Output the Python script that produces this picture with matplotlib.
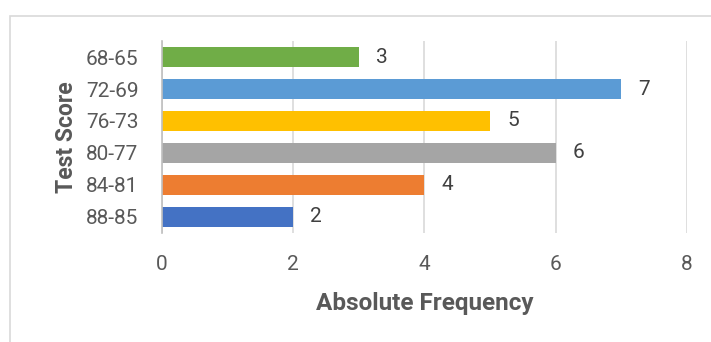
import matplotlib.pyplot as plt
from matplotlib.patches import Rectangle

# Test score ranges, bottom to top
categories = ['88-85', '84-81', '80-77', '76-73', '72-69', '68-65']
frequency = [2, 4, 6, 5, 7, 3]
colors = ['#4472C4', '#ED7D31', '#A5A5A5', '#FFC000', '#5B9BD5', '#70AD47']
x_ticks = [0, 2, 4, 6, 8]

font = ['Roboto', 'DejaVu Sans']

fig = plt.figure(figsize=(7.11, 3.42), dpi=100)
ax = fig.add_axes([0.228, 0.319, 0.738, 0.561])

pos = range(len(categories))
bars = ax.barh(pos, frequency, height=0.625, color=colors, zorder=3)

for b, v in zip(bars, frequency):
    ax.annotate(str(v), (b.get_width(), b.get_y() + b.get_height() / 2),
                xytext=(17, 0), textcoords='offset pixels', va='center', ha='left',
                fontsize=15, color='#404040', family=font)

ax.set_xlim(0, 8)
ax.set_ylim(-0.5, len(categories) - 0.5)
ax.set_xticks(x_ticks)
ax.set_xticklabels([str(t) for t in x_ticks], family=font, fontsize=15, color='#595959')
ax.set_yticks(list(pos))
ax.set_yticklabels(categories, family=font, fontsize=15, color='#595959')
ax.tick_params(length=0)
ax.tick_params(axis='x', pad=16)
ax.tick_params(axis='y', pad=17)

ax.grid(axis='x', color='#D9D9D9', linewidth=1.2, zorder=0)
for s in ['top', 'right', 'bottom']:
    ax.spines[s].set_visible(False)
ax.spines['left'].set_color('#BFBFBF')
ax.spines['left'].set_linewidth(1.2)
ax.spines['left'].set_zorder(4)

ax.set_xlabel('Absolute Frequency', family=font, fontsize=17.5, fontweight='bold',
              color='#595959', labelpad=13)
ax.set_ylabel('Test Score', family=font, fontsize=16.5, fontweight='bold',
              color='#595959', labelpad=6)

# chart frame
fig.patches.append(Rectangle((10 / 711, -0.1), 1.2, 1.1 - 16 / 342,
                             transform=fig.transFigure, fill=False,
                             edgecolor='#D9D9D9', linewidth=1.2))

fig.savefig('out.png', dpi=100)
